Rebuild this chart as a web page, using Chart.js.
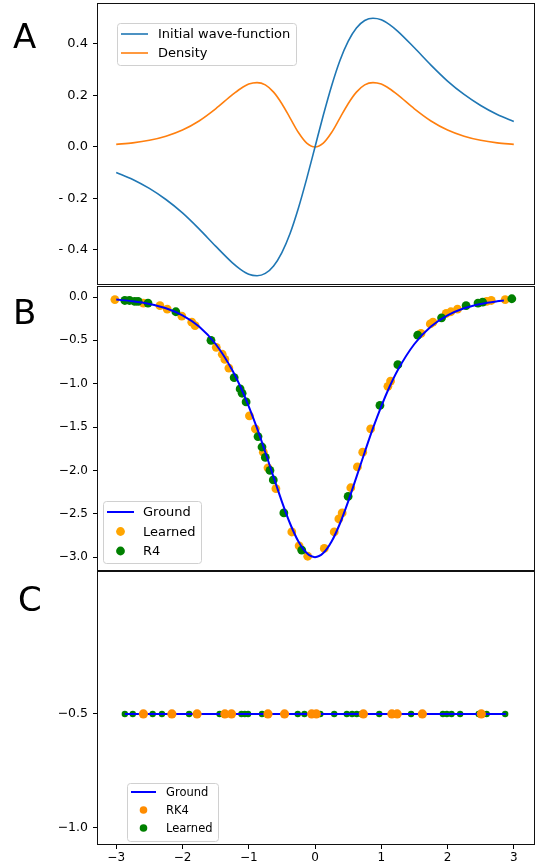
<!DOCTYPE html>
<html>
<head>
<meta charset="utf-8">
<script src="https://cdn.jsdelivr.net/npm/chart.js@4.4.1/dist/chart.umd.min.js"></script>
<style>
  body { margin: 0; background: #fff; }
  #wrap { position: relative; width: 537px; height: 867px; }
  canvas { position: absolute; left: 0; }
</style>
</head>
<body>
<div id="wrap">
  <canvas id="panelA" width="537" height="287" style="top:0px"></canvas>
  <canvas id="panelB" width="537" height="287" style="top:286px"></canvas>
  <canvas id="panelC" width="537" height="296" style="top:571px"></canvas>
</div>
<script>
// ---- panel A: wave-function and density ----
const waveX = [-3, -2.75, -2.5, -2.25, -2, -1.75, -1.5, -1.25, -1.125, -1, -0.875, -0.75, -0.625, -0.5, -0.375, -0.25, -0.125,
  0, 0.125, 0.25, 0.375, 0.5, 0.625, 0.75, 0.875, 1, 1.125, 1.25, 1.5, 1.75, 2, 2.25, 2.5, 2.75, 3];
const waveY = [-0.099, -0.126, -0.161, -0.204, -0.256, -0.318, -0.385, -0.449, -0.475, -0.494, -0.500, -0.491, -0.462, -0.410, -0.335, -0.237, -0.123,
  0, 0.123, 0.237, 0.335, 0.410, 0.462, 0.491, 0.500, 0.494, 0.475, 0.449, 0.385, 0.318, 0.256, 0.204, 0.161, 0.126, 0.099];
const densityY = [0.010, 0.016, 0.026, 0.042, 0.066, 0.101, 0.148, 0.202, 0.226, 0.244, 0.250, 0.241, 0.213, 0.168, 0.112, 0.056, 0.015,
  0, 0.015, 0.056, 0.112, 0.168, 0.213, 0.241, 0.250, 0.244, 0.226, 0.202, 0.148, 0.101, 0.066, 0.042, 0.026, 0.016, 0.010];
const ticksA = [-0.4, -0.2, 0, 0.2, 0.4];

// ---- panel B: potential ----
const groundX = [-3, -2.75, -2.5, -2.25, -2, -1.75, -1.5, -1.25, -1.125, -1, -0.875, -0.75, -0.625, -0.5, -0.375, -0.25, -0.125,
  0, 0.125, 0.25, 0.375, 0.5, 0.625, 0.75, 0.875, 1, 1.125, 1.25, 1.5, 1.75, 2, 2.25, 2.5, 2.75, 2.85];
const groundY = [-0.030, -0.049, -0.080, -0.130, -0.212, -0.341, -0.542, -0.841, -1.035, -1.260, -1.513, -1.790, -2.077, -2.359, -2.615, -2.820, -2.953,
  -3.0, -2.953, -2.820, -2.615, -2.359, -2.077, -1.790, -1.513, -1.260, -1.035, -0.841, -0.542, -0.341, -0.212, -0.130, -0.080, -0.049, -0.040];
const learnedBX = [-3.02, -2.59, -2.34, -2.23, -2.01, -1.86, -1.81, -1.49, -1.40, -1.36, -1.30, -0.99, -0.90, -0.78, -0.71, -0.59,
  -0.35, -0.24, -0.11, 0.14, 0.29, 0.36, 0.41, 0.54, 0.64, 0.72, 0.84, 1.10, 1.14, 1.60, 1.74, 1.78, 1.98, 2.05, 2.15, 2.59, 2.66, 2.87];
const learnedBY = [-0.03, -0.07, -0.10, -0.14, -0.22, -0.29, -0.33, -0.58, -0.66, -0.72, -0.82, -1.37, -1.52, -1.79, -1.97, -2.21,
  -2.71, -2.87, -2.99, -2.90, -2.71, -2.56, -2.49, -2.20, -1.96, -1.79, -1.52, -1.03, -0.97, -0.42, -0.31, -0.29, -0.19, -0.17, -0.14, -0.05, -0.04, -0.03];
const r4X = [-2.87, -2.80, -2.72, -2.67, -2.52, -2.10, -1.57, -1.22, -1.13, -1.10, -1.04, -0.86, -0.80, -0.75, -0.68, -0.63,
  -0.47, -0.20, 0.50, 0.98, 1.25, 1.55, 1.91, 2.28, 2.46, 2.53, 2.97];
const r4Y = [-0.04, -0.04, -0.05, -0.05, -0.07, -0.17, -0.50, -0.93, -1.06, -1.11, -1.21, -1.61, -1.73, -1.85, -2.00, -2.11,
  -2.49, -2.92, -2.30, -1.25, -0.78, -0.44, -0.24, -0.10, -0.07, -0.06, -0.02];
const ticksB = [-3, -2.5, -2, -1.5, -1, -0.5, 0];

// ---- panel C: energy ----
const energyLevel = -0.5;
const groundCX = [-2.87, 2.88];
const rk4X = [-2.59, -2.16, -1.78, -1.36, -1.26, -0.71, -0.46, -0.05, 0.02, 0.73, 1.16, 1.24, 1.62, 2.51];
const learnedCX = [-2.87, -2.75, -2.45, -2.31, -1.90, -1.44, -1.11, -1.06, -1.01, -0.80, -0.26, -0.16, 0.08, 0.29,
  0.48, 0.56, 0.63, 0.70, 0.97, 1.45, 1.93, 1.99, 2.06, 2.19, 2.47, 2.59, 2.87];
const ticksC = [-1, -0.5];
const ticksX = [-3, -2, -1, 0, 1, 2, 3];

const xMin = -3.29, xMax = 3.32;
const font = 'DejaVu Sans';

const pts = (xs, ys) => xs.map((x, i) => ({ x: x, y: ys[i] }));
const level = xs => xs.map(x => ({ x: x, y: energyLevel }));
const minus = v => v < 0 ? '\u2212' + (-v).toFixed(1) : v.toFixed(1);

// box round the plot area
const frame = {
  id: 'frame',
  afterDraw(chart) {
    const a = chart.chartArea, ctx = chart.ctx;
    ctx.save();
    ctx.strokeStyle = '#111';
    ctx.lineWidth = 1;
    ctx.strokeRect(Math.round(a.left) + 0.5, Math.round(a.top) + 0.5,
      Math.round(a.right - a.left) - 1, Math.round(a.bottom - a.top) - 1);
    ctx.restore();
  }
};

// legend drawn inside the axes, matplotlib style
const boxLegend = {
  id: 'boxLegend',
  afterDraw(chart, args, o) {
    const ctx = chart.ctx;
    ctx.save();
    ctx.beginPath();
    ctx.roundRect(o.x + 0.5, o.y + 0.5, o.w, o.h, 3);
    ctx.fillStyle = 'rgba(255,255,255,0.85)';
    ctx.fill();
    ctx.strokeStyle = '#d0d0d0';
    ctx.lineWidth = 1;
    ctx.stroke();
    ctx.font = o.size + 'px "' + font + '"';
    ctx.textBaseline = 'middle';
    chart.data.datasets.forEach((ds, i) => {
      const y = o.y + o.first + i * o.step;
      const x0 = o.x + 4;
      if (ds.showLine) {
        ctx.strokeStyle = ds.borderColor;
        ctx.lineWidth = ds.borderWidth;
        ctx.beginPath();
        ctx.moveTo(x0, y);
        ctx.lineTo(x0 + o.len, y);
        ctx.stroke();
      } else {
        ctx.fillStyle = ds.backgroundColor;
        ctx.beginPath();
        ctx.arc(x0 + o.len / 2, y, o.dot, 0, Math.PI * 2);
        ctx.fill();
      }
      ctx.fillStyle = '#000';
      ctx.fillText(ds.label, o.x + o.textX, y + 1);
    });
    ctx.restore();
  }
};

const panelLetter = {
  id: 'panelLetter',
  afterDraw(chart, args, o) {
    const ctx = chart.ctx;
    ctx.save();
    ctx.font = '34px "' + font + '"';
    ctx.fillStyle = '#000';
    ctx.textBaseline = 'alphabetic';
    ctx.fillText(o.text, o.x, o.y);
    ctx.restore();
  }
};

function yAxis(min, max, ticks, fmt, size) {
  return {
    type: 'linear', min: min, max: max,
    afterBuildTicks: s => { s.ticks = ticks.map(v => ({ value: v })); },
    afterFit: s => { s.width = 97; s.paddingTop = 0; s.paddingBottom = 0; },
    ticks: { callback: fmt, color: '#000', padding: 5, font: { family: font, size: size } },
    grid: { drawOnChartArea: false, tickLength: 4, color: '#000' },
    border: { display: false }
  };
}

const hiddenX = { type: 'linear', min: xMin, max: xMax, display: false };

const common = {
  responsive: false,
  animation: false,
  devicePixelRatio: 1,
  plugins: { legend: { display: false }, tooltip: { enabled: false } }
};

new Chart(document.getElementById('panelA'), {
  type: 'scatter',
  data: {
    datasets: [
      { label: 'Initial wave-function', data: pts(waveX, waveY), showLine: true, pointRadius: 0,
        borderColor: '#1f77b4', borderWidth: 1.6, cubicInterpolationMode: 'monotone' },
      { label: 'Density', data: pts(waveX, densityY), showLine: true, pointRadius: 0,
        borderColor: '#ff7f0e', borderWidth: 1.6, cubicInterpolationMode: 'monotone' }
    ]
  },
  options: Object.assign({}, common, {
    layout: { autoPadding: false, padding: { top: 3, right: 2, bottom: 2, left: 0 } },
    scales: {
      x: hiddenX,
      y: yAxis(-0.536, 0.559, ticksA, v => v < 0 ? '- ' + (-v).toFixed(1) : v.toFixed(1), 13)
    },
    plugins: Object.assign({}, common.plugins, {
      boxLegend: { x: 117, y: 23, w: 179, h: 42, first: 11, step: 19, len: 27, textX: 41, dot: 4, size: 13 },
      panelLetter: { text: 'A', x: 13, y: 48 }
    })
  }),
  plugins: [frame, boxLegend, panelLetter]
});

new Chart(document.getElementById('panelB'), {
  type: 'scatter',
  data: {
    datasets: [
      { label: 'Ground', data: pts(groundX, groundY), showLine: true, pointRadius: 0,
        borderColor: '#0000ff', borderWidth: 2, cubicInterpolationMode: 'monotone', order: 0 },
      { label: 'Learned', data: pts(learnedBX, learnedBY), pointRadius: 4.4, borderWidth: 0,
        backgroundColor: '#ffa500', order: 2 },
      { label: 'R4', data: pts(r4X, r4Y), pointRadius: 4.4, borderWidth: 0,
        backgroundColor: '#008000', order: 1 }
    ]
  },
  options: Object.assign({}, common, {
    layout: { autoPadding: false, padding: { top: 0, right: 2, bottom: 2, left: 0 } },
    scales: {
      x: hiddenX,
      y: yAxis(-3.16, 0.127, ticksB, minus, 12)
    },
    plugins: Object.assign({}, common.plugins, {
      boxLegend: { x: 103, y: 215, w: 98, h: 62, first: 11, step: 19.5, len: 27, textX: 40, dot: 4.4, size: 13 },
      panelLetter: { text: 'B', x: 13, y: 38 }
    })
  }),
  plugins: [frame, boxLegend, panelLetter]
});

new Chart(document.getElementById('panelC'), {
  type: 'scatter',
  data: {
    datasets: [
      { label: 'Ground', data: level(groundCX), showLine: true, pointRadius: 0,
        borderColor: '#0000ff', borderWidth: 2, order: 1 },
      { label: 'RK4', data: level(rk4X), pointRadius: 4.6, borderWidth: 0,
        backgroundColor: '#ff8c00', order: 0 },
      { label: 'Learned', data: level(learnedCX), pointRadius: 3.2, borderWidth: 0,
        backgroundColor: '#008000', order: 2 }
    ]
  },
  options: Object.assign({}, common, {
    layout: { autoPadding: false, padding: { top: 0, right: 2, bottom: 0, left: 0 } },
    scales: {
      x: {
        type: 'linear', min: xMin, max: xMax,
        afterBuildTicks: s => { s.ticks = ticksX.map(v => ({ value: v })); },
        afterFit: s => { s.height = 22; s.paddingLeft = 0; s.paddingRight = 0; },
        ticks: { callback: v => v < 0 ? '\u2212' + (-v) : String(v), color: '#000', padding: 2,
          maxRotation: 0, autoSkip: false, font: { family: font, size: 12 } },
        grid: { drawOnChartArea: false, tickLength: 4, color: '#000' },
        border: { display: false }
      },
      y: yAxis(-1.075, 0.127, ticksC, minus, 12.5)
    },
    plugins: Object.assign({}, common.plugins, {
      boxLegend: { x: 127, y: 212, w: 91, h: 58, first: 9, step: 18, len: 25, textX: 39, dot: 3.8, size: 11.5 },
      panelLetter: { text: 'C', x: 18, y: 40 }
    })
  }),
  plugins: [frame, boxLegend, panelLetter]
});
</script>
</body>
</html>
